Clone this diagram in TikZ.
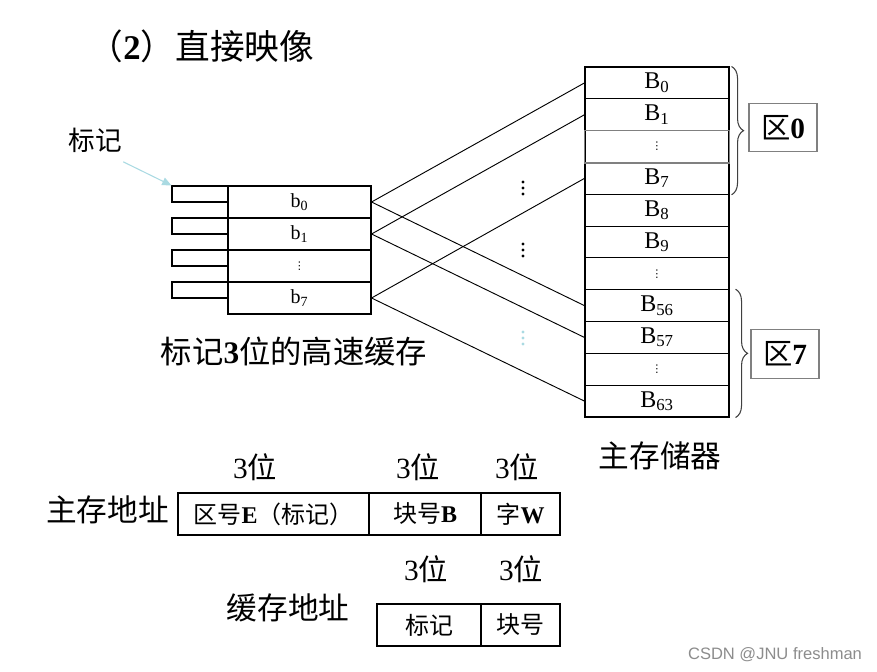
\documentclass[tikz,border=0pt]{standalone}
\usepackage{fontspec}
\setmainfont{Liberation Serif}
\newfontfamily\zhfont{Noto Sans CJK SC}
\newfontfamily\wmfont{Liberation Sans}
\newfontfamily\symfont{DejaVu Sans}
\usetikzlibrary{calc}
\usetikzlibrary{decorations.pathreplacing}
\usetikzlibrary{arrows.meta}

\newcommand{\zh}[1]{{\zhfont #1}}
\newcommand{\fs}[1]{\fontsize{#1}{#1}\selectfont}
\newcommand{\rowdots}{{\symfont\fs{8}⋮}}
\definecolor{tagcyan}{RGB}{170,218,226}

\begin{document}
\begin{tikzpicture}[x=0.75pt,y=-0.75pt,
		cellbox/.style={draw,line width=0.8pt,inner sep=0pt,minimum height=24pt},
		cacherow/.style={cellbox,minimum width=107.25pt,font=\fs{15}},
		tagbox/.style={draw,line width=0.8pt,inner sep=0pt,minimum width=42pt,minimum height=12pt},
		memrow/.style={cellbox,minimum width=108pt,minimum height=23.86pt,font=\fs{18}},
		addrbox/.style={cellbox,minimum height=31.5pt,font=\fs{18}},
		zone/.style={draw=gray,line width=0.8pt,inner sep=0pt,minimum width=51pt,minimum height=36.5pt,font=\fs{22}},
		zbrace/.style={decorate,decoration={brace,amplitude=9pt},line width=0.8pt,draw=black!75},
		bits/.style={font=\fs{22}},
		link/.style={line width=0.7pt}]
		\useasboundingbox (0,0) rectangle (877,671);
		\node[anchor=west,font=\fs{26}] (title) at (84,46) {\zh{（}\textbf{2}\zh{）直接映像}};
		% cache
		\node[cacherow] (c0) at (299.5,202) {b\textsubscript{0}};
		\node[cacherow] (c1) at (299.5,234) {b\textsubscript{1}};
		\node[cacherow] (cd) at (299.5,266) {\rowdots};
		\node[cacherow] (c7) at (299.5,298) {b\textsubscript{7}};
		\foreach \r in {0,...,3}
			\node[tagbox] (t\r) at (200,{194+32*\r}) {};
		\node[font=\fs{20},inner sep=1pt] (tagl) at (95,140) {\zh{标记}};
		\draw[tagcyan,line width=0.8pt,-{Triangle[length=7pt,width=6pt]}] ($(tagl.south east)+(0,8)$) -- (t0.north west);
		\node[font=\fs{23.5}] (cachel) at (294,352) {\zh{标记}\textbf{3}\zh{位的高速缓存}};
		% main memory
		\foreach \lab [count=\i from 0] in {{B\textsubscript{0}},{B\textsubscript{1}},{\rowdots},{B\textsubscript{7}},{B\textsubscript{8}},{B\textsubscript{9}},{\rowdots},{B\textsubscript{56}},{B\textsubscript{57}},{\rowdots},{B\textsubscript{63}}}
			\node[memrow] (m\i) at (657,{67+31.818*(\i+0.5)}) {\lab};
		\draw[gray,line width=0.8pt] (m2.north west) rectangle (m2.south east);
		\node[font=\fs{23}] (meml) at (660,456) {\zh{主存储器}};
		% mapping
		\draw[link] (c0.east) -- (m0.west);
		\draw[link] (c0.east) -- (m7.west);
		\draw[link] (c1.east) -- (m1.west);
		\draw[link] (c1.east) -- (m8.west);
		\draw[link] (c7.east) -- (m3.west);
		\draw[link] (c7.east) -- (m10.west);
		\foreach \y/\c in {188/black,250/black,338/tagcyan}
			\foreach \d in {-6,0,6}
				\fill[\c] (523,\y+\d) circle (1.6);
		% zones
		\draw[zbrace] ($(m0.north east)+(2,0)$) -- ($(m3.south east)+(2,0)$);
		\draw[zbrace] ($(m7.north east)+(6,0)$) -- ($(m10.south east)+(6,0)$);
		\node[zone] (z0) at (783,127.5) {\zh{区}\textbf{0}};
		\node[zone] (z7) at (785,354) {\zh{区}\textbf{7}};
		% addresses
		\node[font=\fs{23}] (mainl) at (107.5,510) {\zh{主存地址}};
		\node[addrbox,minimum width=143.25pt] (ae) at (273.5,514) {\zh{区号}\textbf{E}\zh{（标记）}};
		\node[addrbox,minimum width=84pt] (ab) at (425,514) {\zh{块号}\textbf{B}};
		\node[addrbox,minimum width=59.25pt] (aw) at (520.5,514) {\zh{字}\textbf{W}};
		\node[bits] at (255,467) {3\zh{位}};
		\node[bits] at (418,467) {3\zh{位}};
		\node[bits] at (517,467) {3\zh{位}};
		\node[font=\fs{23}] (cachel2) at (288,608) {\zh{缓存地址}};
		\node[addrbox,minimum width=78pt] (ct) at (429,625) {\zh{标记}};
		\node[addrbox,minimum width=59.25pt] (cb) at (520.5,625) {\zh{块号}};
		\node[bits] at (426,569) {3\zh{位}};
		\node[bits] at (521,569) {3\zh{位}};
		\node[font=\wmfont\fs{12.4},text=black!45] (wm) at (775,655) {CSDN @JNU freshman};
	\end{tikzpicture}
\end{document}
